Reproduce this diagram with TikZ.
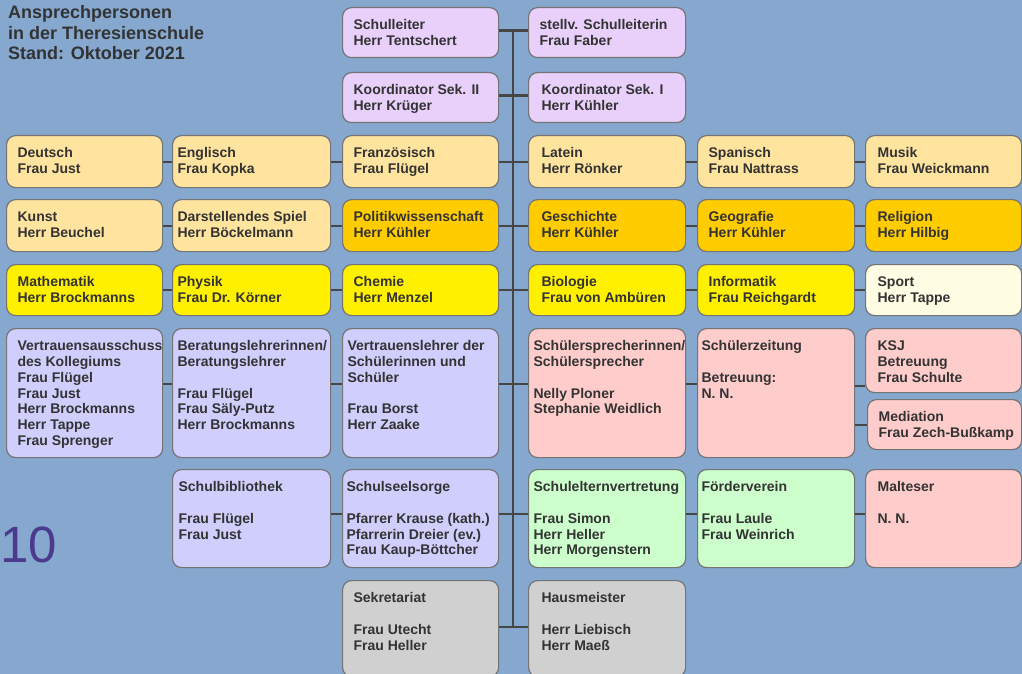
\documentclass[tikz,border=0pt]{standalone}
\usepackage{fontspec}
\setmainfont{Liberation Sans}
\newfontfamily\slidefont{Liberation Sans}
\usepackage{tikz}
\usepackage{xcolor}
\definecolor{bgblue}{HTML}{86A8CF}
\definecolor{boxline}{HTML}{747474}
\definecolor{linkgray}{HTML}{464646}
\definecolor{txtgray}{HTML}{333333}
\definecolor{headlila}{HTML}{E8D0FA}
\definecolor{peri}{HTML}{CFCEFD}
\definecolor{cream}{HTML}{FFE4A0}
\definecolor{amber}{HTML}{FFCC00}
\definecolor{lemon}{HTML}{FFF000}
\definecolor{ivory}{HTML}{FFFDE3}
\definecolor{rose}{HTML}{FFCCCC}
\definecolor{mint}{HTML}{CCFFCC}
\definecolor{silver}{HTML}{D0D0D0}
\definecolor{slidenum}{HTML}{4B3A8D}
\hfuzz=40pt
\newcommand{\orgbox}[8][11]{%
	\node[orgbox,fill=#3] (#2) at (#4,#5) {\parbox[c][#7pt][t]{#6pt}{\raggedright\leftskip=#1pt\relax\rule{0pt}{22pt}#8}};}

\begin{document}
\begin{tikzpicture}[x=1pt,y=-1pt,
		orgbox/.style={draw=boxline,line width=1.2pt,rounded corners=9pt,anchor=north west,inner sep=0pt,text=txtgray,font=\fontsize{14}{15.8}\selectfont\bfseries},
		link/.style={draw=linkgray,line width=2.2pt},
		spine/.style={draw=linkgray,line width=2.6pt}]
		\clip (0,0) rectangle (1022,674);
		\fill[bgblue] (0,0) rectangle (1022,674);
		\node[anchor=north west,inner sep=0pt,text=txtgray,font=\fontsize{18}{20.5}\selectfont\bfseries] (title) at (8,0) {\parbox[t]{300pt}{\rule{0pt}{18.5pt}Ansprechpersonen\\in der Theresienschule\\Stand: Oktober 2021}};
		\node[anchor=base west,inner sep=0pt,text=slidenum,font=\slidefont\fontsize{51}{51}\selectfont] (pagenum) at (0,562) {10};
		\coordinate (spinetop) at (513,30);
		\coordinate (spinebot) at (513,627);
		\draw[spine] (spinetop) -- (spinebot);
		\orgbox{lead}{headlila}{342}{7}{156}{50}{Schulleiter\\Herr Tentschert}
		\orgbox{deputy}{headlila}{528}{7}{157}{50}{stellv. Schulleiterin\\Frau Faber}
		\orgbox{koordtwo}{headlila}{342}{72}{156}{50}{Koordinator Sek. II\\Herr Krüger}
		\orgbox[13]{koordone}{headlila}{528}{72}{157}{50}{Koordinator Sek. I\\Herr Kühler}
		\orgbox{deutsch}{cream}{6}{135}{156}{52}{Deutsch\\Frau Just}
		\orgbox[5]{englisch}{cream}{172}{135}{158}{52}{Englisch\\Frau Kopka}
		\orgbox{franz}{cream}{342}{135}{156}{52}{Französisch\\Frau Flügel}
		\orgbox[13]{latein}{cream}{528}{135}{157}{52}{Latein\\Herr Rönker}
		\orgbox{spanisch}{cream}{697}{135}{157}{52}{Spanisch\\Frau Nattrass}
		\orgbox[12]{musik}{cream}{865}{135}{156}{52}{Musik\\Frau Weickmann}
		\orgbox{kunst}{cream}{6}{199}{156}{52}{Kunst\\Herr Beuchel}
		\orgbox[5]{spiel}{cream}{172}{199}{158}{52}{Darstellendes Spiel\\Herr Böckelmann}
		\orgbox{politik}{amber}{342}{199}{156}{52}{Politikwissenschaft\\Herr Kühler}
		\orgbox[13]{geschichte}{amber}{528}{199}{157}{52}{Geschichte\\Herr Kühler}
		\orgbox{geografie}{amber}{697}{199}{157}{52}{Geografie\\Herr Kühler}
		\orgbox[12]{religion}{amber}{865}{199}{156}{52}{Religion\\Herr Hilbig}
		\orgbox{mathe}{lemon}{6}{264}{156}{51}{Mathematik\\Herr Brockmanns}
		\orgbox[5]{physik}{lemon}{172}{264}{158}{51}{Physik\\Frau Dr. Körner}
		\orgbox{chemie}{lemon}{342}{264}{156}{51}{Chemie\\Herr Menzel}
		\orgbox[13]{bio}{lemon}{528}{264}{157}{51}{Biologie\\Frau von Ambüren}
		\orgbox{info}{lemon}{697}{264}{157}{51}{Informatik\\Frau Reichgardt}
		\orgbox[12]{sport}{ivory}{865}{264}{156}{51}{Sport\\Herr Tappe}
		\orgbox{vakoll}{peri}{6}{328}{156}{129}{Vertrauensausschuss\\des Kollegiums\\Frau Flügel\\Frau Just\\Herr Brockmanns\\Herr Tappe\\Frau Sprenger}
		\orgbox[5]{beratung}{peri}{172}{328}{158}{129}{Beratungslehrerinnen/\\Beratungslehrer\\[\baselineskip]Frau Flügel\\Frau Säly-Putz\\Herr Brockmanns}
		\orgbox[5]{vlehrer}{peri}{342}{328}{156}{129}{Vertrauenslehrer der\\Schülerinnen und\\Schüler\\[\baselineskip]Frau Borst\\Herr Zaake}
		\orgbox[5]{sv}{rose}{528}{328}{157}{129}{Schülersprecherinnen/\\Schülersprecher\\[\baselineskip]Nelly Ploner\\Stephanie Weidlich}
		\orgbox[4]{zeitung}{rose}{697}{328}{157}{129}{Schülerzeitung\\[\baselineskip]Betreuung:\\N. N.}
		\orgbox[12]{ksj}{rose}{865}{328}{156}{64}{KSJ\\Betreuung\\Frau Schulte}
		\orgbox{mediation}{rose}{867}{399}{154}{50}{Mediation\\Frau Zech-Bußkamp}
		\orgbox[6]{bibliothek}{peri}{172}{469}{158}{98}{Schulbibliothek\\[\baselineskip]Frau Flügel\\Frau Just}
		\orgbox[4]{seelsorge}{peri}{342}{469}{156}{98}{Schulseelsorge\\[\baselineskip]Pfarrer Krause (kath.)\\Pfarrerin Dreier (ev.)\\Frau Kaup-Böttcher}
		\orgbox[5]{eltern}{mint}{528}{469}{157}{98}{Schulelternvertretung\\[\baselineskip]Frau Simon\\Herr Heller\\Herr Morgenstern}
		\orgbox[4]{foerder}{mint}{697}{469}{157}{98}{Förderverein\\[\baselineskip]Frau Laule\\Frau Weinrich}
		\orgbox[12]{malteser}{rose}{865}{469}{156}{98}{Malteser\\[\baselineskip]N. N.}
		\orgbox{sekretariat}{silver}{342}{580}{156}{96}{Sekretariat\\[\baselineskip]Frau Utecht\\Frau Heller}
		\orgbox[13]{hausmeister}{silver}{528}{580}{157}{96}{Hausmeister\\[\baselineskip]Herr Liebisch\\Herr Maeß}
		\draw[link] ([yshift=2pt]lead.east) -- ([yshift=2pt]deputy.west);
		\draw[link] ([yshift=2pt]koordtwo.east) -- ([yshift=2pt]koordone.west);
		\draw[link] (deutsch) -- (englisch);
		\draw[link] (englisch) -- (franz);
		\draw[link] (franz) -- (latein);
		\draw[link] (latein) -- (spanisch);
		\draw[link] (spanisch) -- (musik);
		\draw[link] (kunst) -- (spiel);
		\draw[link] (spiel) -- (politik);
		\draw[link] (politik) -- (geschichte);
		\draw[link] (geschichte) -- (geografie);
		\draw[link] (geografie) -- (religion);
		\draw[link] (mathe) -- (physik);
		\draw[link] (physik) -- (chemie);
		\draw[link] (chemie) -- (bio);
		\draw[link] (bio) -- (info);
		\draw[link] (info) -- (sport);
		\draw[link] ([yshift=9.5pt]vakoll.east) -- ([yshift=9.5pt]beratung.west);
		\draw[link] ([yshift=9.5pt]beratung.east) -- ([yshift=9.5pt]vlehrer.west);
		\draw[link] ([yshift=9.5pt]vlehrer.east) -- ([yshift=9.5pt]sv.west);
		\draw[link] ([yshift=9.5pt]sv.east) -- ([yshift=9.5pt]zeitung.west);
		\draw[link] ([yshift=7.5pt]zeitung.east) -- ([yshift=7.5pt]zeitung.east -| ksj.west);
		\draw[link] (zeitung.east |- mediation.west) -- (mediation.west);
		\draw[link] ([yshift=5pt]bibliothek.east) -- ([yshift=5pt]seelsorge.west);
		\draw[link] ([yshift=5pt]seelsorge.east) -- ([yshift=5pt]eltern.west);
		\draw[link] ([yshift=5pt]eltern.east) -- ([yshift=5pt]foerder.west);
		\draw[link] ([yshift=5pt]foerder.east) -- ([yshift=5pt]malteser.west);
		\draw[link] (sekretariat.east |- spinebot) -- (hausmeister.west |- spinebot);
	\end{tikzpicture}
\end{document}
